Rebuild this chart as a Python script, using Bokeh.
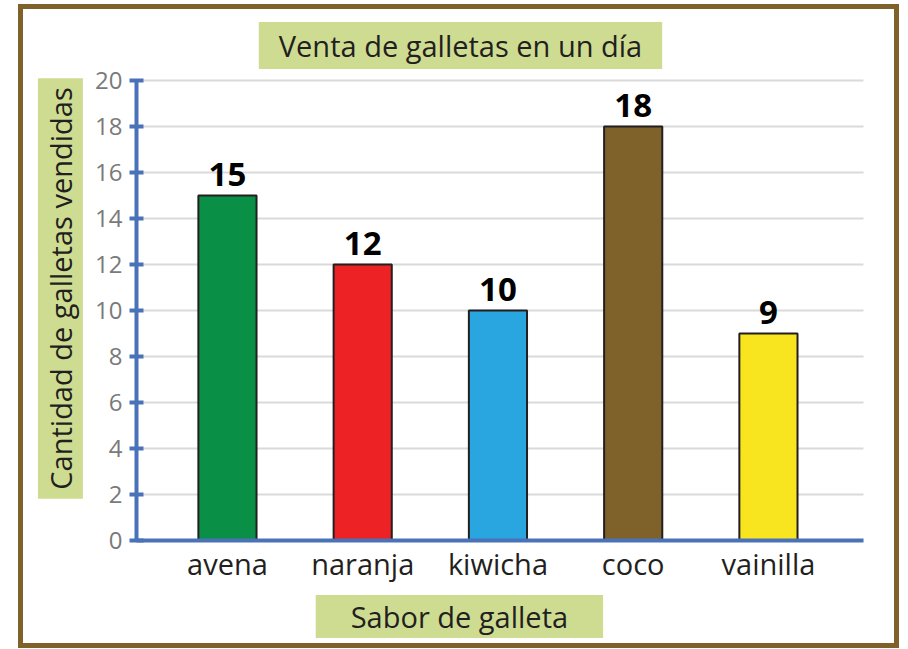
from bokeh.plotting import figure
from bokeh.models import ColumnDataSource, Label, FixedTicker, Range1d
from bokeh.core.properties import value
from bokeh.embed import file_html
from bokeh.resources import INLINE

sabores = ["avena", "naranja", "kiwicha", "coco", "vainilla"]
ventas = [15, 12, 10, 18, 9]
colores = ["#0a8f47", "#ed2224", "#29a6e0", "#7f6229", "#f9e51f"]
y_ticks = [0, 2, 4, 6, 8, 10, 12, 14, 16, 18, 20]
titulo = "Venta de galletas en un día"
eje_x = "Sabor de galleta"
eje_y = "Cantidad de galletas vendidas"

FONT = "Open Sans"
X0, X1 = -0.6728, 4.702   # extent of the x axis line (data units)
xs = list(range(len(sabores)))
src = ColumnDataSource(dict(x=xs, top=ventas, color=colores,
                            lab=[str(v) for v in ventas]))

p = figure(width=881, height=644, output_backend="svg", toolbar_location=None,
           x_range=Range1d(-1.508, 5.006), y_range=Range1d(-4.913, 23.087),
           min_border=0,
           styles={"border": "5px solid #7f6229", "box-sizing": "border-box",
                   "margin-left": "18px", "margin-top": "4px"})
p.outline_line_color = None
p.background_fill_color = "white"
p.border_fill_color = "white"

p.vbar(x="x", top="top", width=0.43, fill_color="color", line_color="#231f20",
       line_width=2, source=src)
p.text(x="x", y="top", text="lab", source=src, text_align="center",
       text_baseline="bottom", y_offset=-10, text_font=value(FONT),
       text_font_style="bold", text_font_size="33px", text_color="black")

p.xgrid.grid_line_color = None
p.ygrid.grid_line_color = "#dadada"
p.ygrid.grid_line_width = 2
p.ygrid.ticker = FixedTicker(ticks=y_ticks)
try:
    p.ygrid.cross_bounds = (X0, X1)
except Exception:
    pass
p.ygrid.bounds = (0, 20)

ax = p.yaxis[0]
ax.fixed_location = X0
ax.bounds = (0, 20)
ax.ticker = FixedTicker(ticks=y_ticks)
ax.axis_line_color = "#4a72b8"
ax.axis_line_width = 4
ax.major_tick_line_color = "#4a72b8"
ax.major_tick_line_width = 4
ax.major_tick_in = 7
ax.major_tick_out = 7
ax.minor_tick_line_color = None
ax.major_label_text_font = FONT
ax.major_label_text_font_size = "24px"
ax.major_label_text_color = "#7a7a7a"
ax.major_label_standoff = 7

bx = p.xaxis[0]
bx.fixed_location = 0
bx.bounds = (X0, X1)
bx.ticker = FixedTicker(ticks=xs)
bx.major_label_overrides = {i: s for i, s in enumerate(sabores)}
bx.axis_line_color = "#4a72b8"
bx.axis_line_width = 4
bx.major_tick_line_color = None
bx.minor_tick_line_color = None
bx.major_label_text_font = FONT
bx.major_label_text_font_size = "29px"
bx.major_label_text_color = "#231f20"
bx.major_label_standoff = -3

box = "#cedc92"
p.add_layout(Label(x=1.723, y=21.52, text=titulo, text_align="center",
                   text_baseline="middle", text_font=FONT, text_font_size="29px",
                   text_color="#231f20", background_fill_color=box,
                   padding=(20, 4)))
p.add_layout(Label(x=1.715, y=-3.304, text=eje_x, text_align="center",
                   text_baseline="middle", text_font=FONT, text_font_size="29px",
                   text_color="#231f20", background_fill_color=box,
                   padding=(35, 2)))
p.add_layout(Label(x=-1.235, y=10.957, text=eje_y, text_align="center",
                   text_baseline="middle", angle=1.5708, text_font=FONT,
                   text_font_size="29px", text_color="#231f20",
                   background_fill_color=box, padding=(9, 3)))

open("out.html", "w").write(file_html(p, INLINE))
